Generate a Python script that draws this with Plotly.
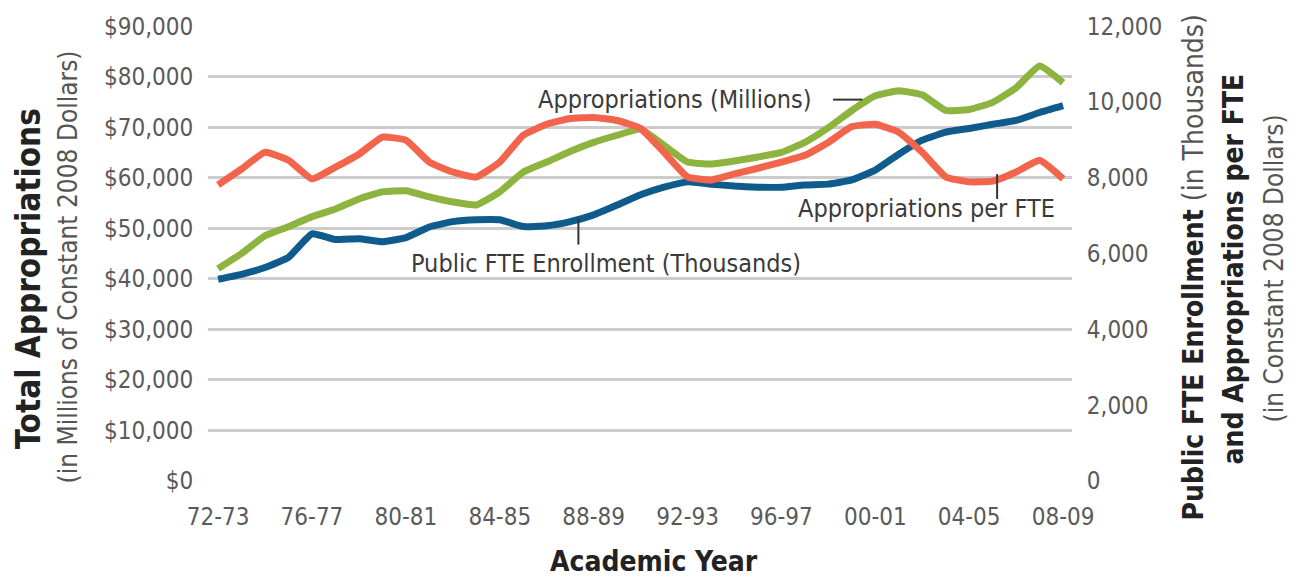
import plotly.graph_objects as go

# Academic years, 1972-73 through 2008-09
years = [
    "72-73", "73-74", "74-75", "75-76", "76-77", "77-78", "78-79", "79-80",
    "80-81", "81-82", "82-83", "83-84", "84-85", "85-86", "86-87", "87-88",
    "88-89", "89-90", "90-91", "91-92", "92-93", "93-94", "94-95", "95-96",
    "96-97", "97-98", "98-99", "99-00", "00-01", "01-02", "02-03", "03-04",
    "04-05", "05-06", "06-07", "07-08", "08-09",
]

# Total state appropriations, millions of constant 2008 dollars (left axis)
appropriations = [
    42000, 45000, 48500, 50300, 52300, 53800, 55800, 57200, 57400, 56200,
    55200, 54600, 57200, 61100, 63100, 65200, 67000, 68400, 69600, 66400,
    63100, 62700, 63300, 64100, 65000, 67000, 69900, 73300, 76200, 77200,
    76400, 73300, 73500, 74900, 77800, 82100, 78800,
]

# Public FTE enrollment, thousands (right axis)
enrollment = [
    5320, 5450, 5630, 5900, 6520, 6370, 6390, 6310, 6420, 6700,
    6840, 6890, 6890, 6710, 6730, 6840, 7020, 7280, 7550, 7750,
    7890, 7830, 7780, 7750, 7750, 7810, 7830, 7940, 8200, 8620,
    8990, 9200, 9300, 9410, 9510, 9720, 9900,
]

# Appropriations per FTE, constant 2008 dollars (right axis)
per_fte = [
    7810, 8230, 8670, 8460, 7970, 8280, 8620, 9070, 8990, 8410,
    8150, 8020, 8410, 9120, 9410, 9560, 9590, 9510, 9300, 8670,
    8020, 7940, 8100, 8250, 8410, 8590, 8930, 9350, 9410, 9200,
    8670, 8020, 7890, 7910, 8150, 8460, 7970,
]

x_ticks = years[::4]
left_ticks = list(range(0, 90001, 10000))
right_ticks = list(range(0, 12001, 2000))

FONT = "Liberation Sans Narrow, DejaVu Sans Condensed, Arial Narrow, sans-serif"
GREEN = "#8cb43f"
BLUE = "#0f5b8c"
RED = "#f2644b"
TEXT = "#3a3a3a"
TICK = "#5a5a5a"

fig = go.Figure()
fig.add_trace(go.Scatter(x=years, y=enrollment, yaxis="y2", mode="lines",
                         line=dict(color=BLUE, width=7, shape="spline", smoothing=0.4),
                         name="Public FTE Enrollment (Thousands)"))
fig.add_trace(go.Scatter(x=years, y=per_fte, yaxis="y2", mode="lines",
                         line=dict(color=RED, width=7, shape="spline", smoothing=0.4),
                         name="Appropriations per FTE"))
fig.add_trace(go.Scatter(x=years, y=appropriations, yaxis="y", mode="lines",
                         line=dict(color=GREEN, width=7, shape="spline", smoothing=0.4),
                         name="Appropriations (Millions)"))

fig.update_layout(
    width=1302, height=582,
    margin=dict(l=208, r=230, t=23, b=101),
    paper_bgcolor="white", plot_bgcolor="white",
    showlegend=False,
    font=dict(family=FONT, size=24, color=TICK),
    xaxis=dict(
        type="category", range=[-0.43, 36.38],
        tickmode="array", tickvals=x_ticks, ticktext=x_ticks,
        showgrid=False, zeroline=False, showline=False,
        ticks="outside", ticklen=14, tickcolor="rgba(0,0,0,0)",
        tickfont=dict(size=24, color=TICK),
    ),
    yaxis=dict(
        range=[-20, 90020], tickvals=left_ticks,
        ticktext=["$" + f"{v:,}" for v in left_ticks],
        showgrid=True, gridcolor="#cccccc", gridwidth=2.5,
        zeroline=False, showline=False,
        ticks="outside", ticklen=9, tickcolor="rgba(0,0,0,0)",
        tickfont=dict(size=24, color=TICK),
    ),
    yaxis2=dict(
        range=[-20 * 12000 / 90000, 12000 + 20 * 12000 / 90000],
        overlaying="y", side="right",
        tickvals=right_ticks, ticktext=[f"{v:,}" for v in right_ticks],
        showgrid=False, zeroline=False, showline=False,
        ticks="outside", ticklen=9, tickcolor="rgba(0,0,0,0)",
        tickfont=dict(size=24, color=TICK),
    ),
)


def px_x(px):
    """Horizontal pixel position converted to paper coordinates."""
    return (px - 208) / 864


def px_y(py):
    """Vertical pixel position converted to paper coordinates."""
    return (481 - py) / 458


title_common = dict(xref="paper", yref="paper", showarrow=False,
                    xanchor="center", yanchor="middle")

annotations = [
    # series labels
    dict(x=19.47, y=75450, xref="x", yref="y", text="Appropriations (Millions)",
         showarrow=False, font=dict(size=25, color=TEXT)),
    dict(x=16.53, y=43050, xref="x", yref="y", text="Public FTE Enrollment (Thousands)",
         showarrow=False, font=dict(size=25, color=TEXT)),
    dict(x=30.17, y=53850, xref="x", yref="y", text="Appropriations per FTE",
         showarrow=False, font=dict(size=25, color=TEXT)),
    # axis titles
    dict(x=px_x(28), y=px_y(278), textangle=-90,
         text="<b>Total Appropriations</b>",
         font=dict(size=33, color="#222222"), **title_common),
    dict(x=px_x(68), y=px_y(266), textangle=-90,
         text="(in Millions of Constant 2008 Dollars)",
         font=dict(size=26, color="#555555"), **title_common),
    dict(x=px_x(1193), y=px_y(266), textangle=-90,
         text="<b>Public FTE Enrollment</b> <span style='font-weight:normal;color:#555555'>(in Thousands)</span>",
         font=dict(size=28, color="#222222"), **title_common),
    dict(x=px_x(1233), y=px_y(268), textangle=-90,
         text="<b>and Appropriations per FTE</b>",
         font=dict(size=28, color="#222222"), **title_common),
    dict(x=px_x(1274), y=px_y(267), textangle=-90,
         text="(in Constant 2008 Dollars)",
         font=dict(size=26, color="#555555"), **title_common),
    dict(x=px_x(654), y=px_y(562),
         text="<b>Academic Year</b>",
         font=dict(size=28, color="#222222"), **title_common),
]
fig.update_layout(annotations=annotations)

# leader lines from the series labels to their lines
leader = dict(color="#333333", width=2)
fig.add_shape(type="line", xref="x", yref="y", x0=26.2, x1=27.45,
              y0=75450, y1=75450, line=leader)
fig.add_shape(type="line", xref="x", yref="y", x0=15.35, x1=15.35,
              y0=46770, y1=51880, line=leader)
fig.add_shape(type="line", xref="x", yref="y", x0=33.19, x1=33.19,
              y0=55800, y1=60700, line=leader)

fig.write_html("out.html")
